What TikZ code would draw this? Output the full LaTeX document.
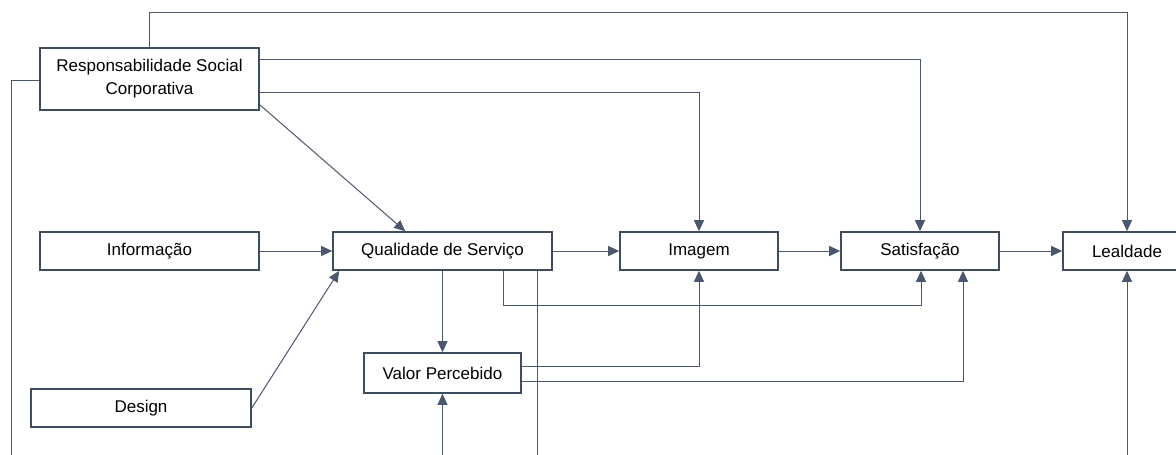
\documentclass[tikz,border=0pt]{standalone}
\usepackage{fontspec}
\setmainfont{Liberation Sans}
\usetikzlibrary{arrows.meta,calc}
\definecolor{edge}{HTML}{4A586E}
\definecolor{frame}{HTML}{3E4C60}
\tikzset{
  box/.style={draw=frame, line width=1.6pt, fill=white, inner sep=0pt,
    minimum height=38pt, align=center, font=\fontsize{17pt}{23pt}\selectfont},
  link/.style={draw=edge, line width=1pt},
  arr/.style={link, -{Triangle[length=11pt,width=10pt]}}
}
\begin{document}
\begin{tikzpicture}[x=1pt,y=-1pt]
\useasboundingbox (0,0) rectangle (1176,455);
\clip (0,0) rectangle (1176,455);

% boxes
\node[box, minimum width=219pt, minimum height=62pt] (rsc) at (149.5,79) {Responsabilidade Social\\Corporativa};
\node[box, minimum width=219pt] (info) at (149.5,251) {Informação};
\node[box, minimum width=220pt] (design) at (141,408) {Design};
\node[box, minimum width=219pt] (qual) at (442.5,251) {Qualidade de Serviço};
\node[box, minimum width=157pt, minimum height=40pt] (valor) at (442.5,373) {Valor Percebido};
\node[box, minimum width=158pt] (imagem) at (699,251) {Imagem};
\node[box, minimum width=158pt] (sat) at (920,251) {Satisfação};
\node[box, minimum width=128pt] (leal) at (1127,251) {Lealdade};

% loose ends leaving the frame
\coordinate (bl) at (11,455);
\coordinate (bq) at (537,455);
\coordinate (bv) at (442.5,455);
\coordinate (bll) at (1127,455);

% connectors from Responsabilidade Social Corporativa
\draw[arr] (rsc.north) -- ++(0,-35) -| (leal.north);
\draw[arr] (rsc.east |- 0,59) -| (sat.north);
\draw[arr] (rsc.east |- 0,92) -| (imagem.north);
\draw[arr] ($(rsc.south east)+(0,-6)$) -- ($(qual.north west)+(73,0)$);
\draw[link] (rsc.west |- 0,80) -| (bl);

% inputs to Qualidade de Servico
\draw[arr] (info.east) -- (qual.west);
\draw[arr] (design.east) -- ($(qual.south west)+(7,0)$);

% main chain
\draw[arr] (qual.east) -- (imagem.west);
\draw[arr] (imagem.east) -- (sat.west);
\draw[arr] (sat.east) -- (leal.west);

% from Qualidade de Servico
\draw[arr] (qual.south) -- (valor.north);
\draw[arr] (qual.south -| 503,0) -- (503,305) -| (921,0 |- sat.south);
\draw[link] (qual.south -| 537,0) -- (bq);

% from Valor Percebido
\draw[arr] (valor.east |- 0,366) -| (imagem.south);
\draw[arr] (valor.east |- 0,381) -| (963,0 |- sat.south);

% entering from below
\draw[arr] (bv) -- (valor.south);
\draw[arr] (bll) -- (leal.south);
\end{tikzpicture}
\end{document}
